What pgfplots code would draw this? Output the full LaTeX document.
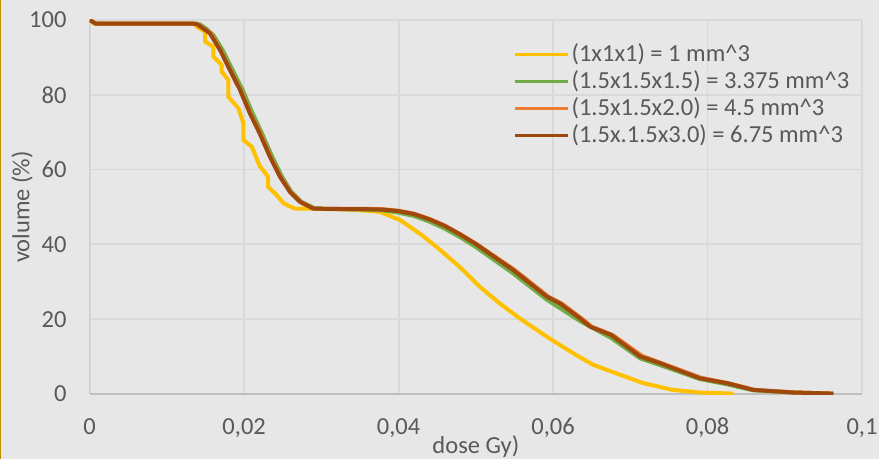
\documentclass[border=0pt]{standalone}
\usepackage{fontspec}
\setmainfont{Carlito}
\usepackage{pgfplots}
\pgfplotsset{compat=1.18}

\definecolor{bgc}{HTML}{E7E7E7}
\definecolor{gridc}{HTML}{D9D9D9}
\definecolor{axisc}{HTML}{BFBFBF}
\definecolor{txt}{HTML}{595959}
\definecolor{gold}{HTML}{BF9000}
\definecolor{c1}{HTML}{FFC000}
\definecolor{c2}{HTML}{70AD47}
\definecolor{c3}{HTML}{ED7D31}
\definecolor{c4}{HTML}{9E480E}

\newcommand\chartfont{\fontsize{24.5bp}{29bp}\selectfont}

\begin{document}
\begin{tikzpicture}
% background of the whole chart
\fill[bgc] (-89.7bp,-65bp) rectangle (789.3bp,394bp);
\draw[gold, line width=1.2bp] (-89.1bp,-65bp) -- (-89.1bp,394bp);

\begin{axis}[
    scale only axis,
    width=772.3bp, height=374bp,
    xmin=0, xmax=0.1, ymin=0, ymax=100,
    xtick={0,0.02,0.04,0.06,0.08,0.1},
    ytick={0,20,40,60,80,100},
    scaled x ticks=false,
    scaled y ticks=false,
    axis line style={draw=none},
    major tick length=0pt,
    grid=major,
    major grid style={gridc, line width=1.8bp},
    tick label style={font=\chartfont, text=txt, inner sep=0pt},
    /pgf/number format/assume math mode=true,
    /pgf/number format/use comma,
    /pgf/number format/fixed,
    xticklabel style={yshift=-24bp},
    yticklabel style={xshift=-23bp},
    xlabel={dose Gy)},
    ylabel={volume (\%)},
    label style={font=\chartfont, text=txt, inner sep=0pt},
    xlabel style={at={(axis description cs:0.5,0)}, anchor=north, yshift=-41bp},
    ylabel style={at={(axis description cs:0,0.5)}, anchor=south, yshift=56.7bp},
    legend style={at={(0.548,0.938)}, anchor=north west, draw=none, fill=none,
        font=\chartfont, text=txt, inner sep=0pt, row sep=0pt,
        nodes={inner xsep=2bp, inner ysep=0pt, text height=18.5bp, text depth=8.5bp}},
    legend cell align=left,
    legend image code/.code={\draw[#1, line width=3.5bp] (0bp,0.45ex) -- (53bp,0.45ex);},
    every axis plot/.append style={line width=4bp, line join=round},
]
% horizontal and vertical axis lines
\addplot[axisc, line width=1.5bp, forget plot] coordinates {(0,0)(0.1,0)};
\addplot[axisc, line width=1.5bp, forget plot] coordinates {(0,0)(0,100)};

\addplot[c1] coordinates {
(0,100)(0.0006,99)(0.0136,99)(0.01385,98.2)(0.01493,96.9)(0.01493,94.2)
(0.0160,92.9)(0.0160,90.2)(0.01709,88.0)(0.01709,86.2)(0.01794,84.0)
(0.01794,79.5)(0.01925,76.4)(0.0199,72.4)(0.0199,67.9)(0.0210,66.1)
(0.0220,61.0)(0.0231,58.1)(0.0231,55.4)(0.0242,53.2)(0.0251,51.0)
(0.0265,49.6)(0.030,49.5)(0.034,49.3)(0.0376,48.7)(0.0402,46.5)
(0.0430,42.5)(0.0451,39.0)(0.0479,34.0)(0.0505,28.7)(0.0531,24.2)
(0.0557,20.2)(0.0592,15.3)(0.0609,13.1)(0.0630,10.4)(0.0652,7.8)
(0.0682,5.5)(0.0717,2.9)(0.0755,1.1)(0.0790,0.4)(0.0833,0.1)
};
\addlegendentry{(1x1x1) = 1 mm\textasciicircum 3}

\addplot[c2] coordinates {
(0,100)(0.0008,99)(0.0138,99)(0.0143,98.8)(0.0150,97.8)(0.0160,96)
(0.0172,92)(0.0185,86.6)(0.0198,81.3)(0.0210,75.5)(0.0223,69.7)
(0.0236,63.6)(0.0249,58.1)(0.0261,54.1)(0.0274,51.4)(0.0291,49.7)
(0.0306,49.5)(0.036,49.3)(0.038,49.1)(0.040,48.5)(0.042,47.6)
(0.044,46.1)(0.046,44.2)(0.048,41.9)(0.050,39.3)(0.0548,32.3)
(0.0592,25.2)(0.0635,19.5)(0.0675,15.0)(0.0713,9.5)(0.0739,7.7)
(0.0790,4.0)(0.0825,2.6)(0.0859,1.0)(0.0911,0.4)(0.0963,0.1)
};
\addlegendentry{(1.5x1.5x1.5) = 3.375 mm\textasciicircum 3}

\addplot[c3] coordinates {
(0,100)(0.0008,99)(0.0135,99)(0.01395,98.9)(0.0146,98)(0.0157,96.4)
(0.0169,92)(0.0182,86.6)(0.0195,81.3)(0.0208,75)(0.0221,69.7)
(0.0234,63.4)(0.0247,58.1)(0.0260,54.1)(0.0273,51.4)(0.0290,49.6)
(0.0306,49.5)(0.036,49.5)(0.038,49.4)(0.040,49.0)(0.042,48.2)
(0.044,46.8)(0.046,45.0)(0.048,42.7)(0.050,40.2)(0.0550,33.2)
(0.0594,26)(0.0611,24.2)(0.0637,20.2)(0.0650,18)(0.0677,15.8)
(0.0715,10.2)(0.0741,8.2)(0.0792,4.3)(0.0827,2.9)(0.0861,1.1)
(0.0913,0.4)(0.0963,0.1)
};
\addlegendentry{(1.5x1.5x2.0) = 4.5 mm\textasciicircum 3}

\addplot[c4] coordinates {
(0,100)(0.0008,99)(0.0134,99)(0.01385,98.9)(0.0145,98)(0.01557,96.4)
(0.01687,92)(0.01816,86.6)(0.01946,81.3)(0.02075,75)(0.0220,69.7)
(0.02334,63.4)(0.02463,58.1)(0.0259,54.1)(0.0272,51.4)(0.0289,49.6)
(0.0306,49.5)(0.036,49.4)(0.038,49.3)(0.040,48.9)(0.042,48.1)
(0.044,46.7)(0.046,44.9)(0.048,42.6)(0.050,40.1)(0.0548,33.2)
(0.0592,26)(0.0609,24.2)(0.0635,20.2)(0.0648,18)(0.0675,15.8)
(0.0713,10)(0.0739,8.2)(0.0790,4.2)(0.0825,2.9)(0.0859,1.1)
(0.0911,0.4)(0.0963,0.1)
};
\addlegendentry{(1.5x.1.5x3.0) = 6.75 mm\textasciicircum 3}
\end{axis}

\pgfresetboundingbox
\path[use as bounding box] (-89.7bp,-65bp) rectangle (789.3bp,394bp);
\end{tikzpicture}
\end{document}
